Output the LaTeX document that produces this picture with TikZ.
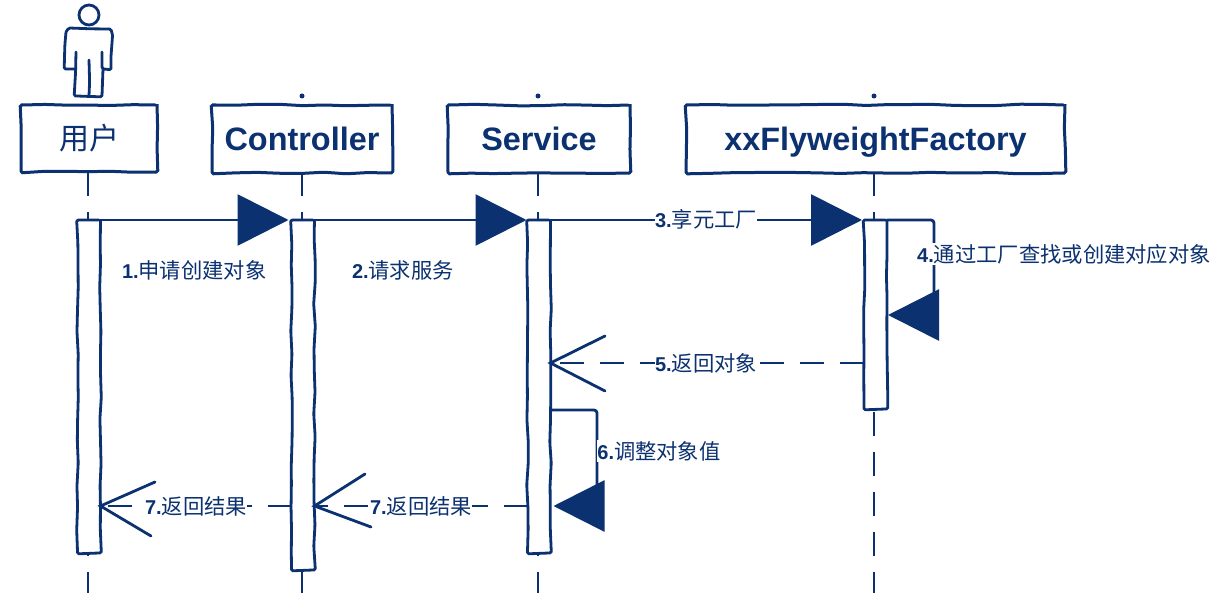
\documentclass[tikz,border=0pt]{standalone}
\usepackage{fontspec}
\setmainfont{Liberation Sans}
\newfontfamily\cjkf{Noto Sans CJK SC}
\usetikzlibrary{arrows.meta,decorations.pathmorphing}
\definecolor{ink}{HTML}{0B3170}
\pgfmathsetseed{7}
\newcommand{\lab}[2]{{\fontsize{20}{24}\selectfont\bfseries #1}{\fontsize{21.3}{25}\selectfont\cjkf #2}}
\tikzset{
  x=1pt,y=-1pt,
  every node/.style={inner sep=0pt,outer sep=0pt,text=ink},
  sketch/.style={decorate,decoration={random steps,segment length=22pt,amplitude=0.8pt},rounded corners=1.5pt},
  headbox/.style={draw=ink,line width=3pt,fill=white,sketch,anchor=north west,align=center,text height=23pt,text depth=0pt},
  headtext/.style={font=\fontsize{32.4}{36}\selectfont\bfseries},
  activ/.style={draw=ink,line width=2.8pt,fill=white,sketch,minimum width=23pt},
  life/.style={draw=ink,line width=2.8pt,dash pattern=on 24pt off 16pt},
  conn/.style={draw=ink,line width=2.8pt},
  solidhead/.style={conn,-{Triangle[length=51pt,width=51pt]}},
  opendash/.style={conn,dash pattern=on 24pt off 16pt},
  barb/.style={conn,line cap=round,line join=miter},
  msg/.style={fill=white,inner xsep=0.5pt,inner ysep=1pt,anchor=center},
  actor/.style={draw=ink,line width=2.8pt,line join=round,line cap=round},
}
\begin{document}
\begin{tikzpicture}
\useasboundingbox (0,0) rectangle (1228,593);
% lifelines anchors
\coordinate (lu0) at (88,172);  \coordinate (lu1) at (88,593);
\coordinate (lc0) at (302,172); \coordinate (lc1) at (302,593);
\coordinate (ls0) at (538,172); \coordinate (ls1) at (538,593);
\coordinate (lf0) at (874,172); \coordinate (lf1) at (874,593);
\draw[life] (lu0) -- (lu1);
\draw[life] (lc0) -- (lc1);
\draw[life] (ls0) -- (ls1);
\draw[life] (lf0) -- (lf1);
% top dots
\coordinate (dc) at (302,96); \coordinate (ds) at (538,96); \coordinate (df) at (874,96);
\fill[ink] (dc) circle (2.5pt) (ds) circle (2.5pt) (df) circle (2.5pt);
% actor
\draw[actor] (89,15) circle (10pt);
\draw[actor,sketch] (66,32) -- (68,29) -- (110,29) -- (112,33) -- (111,69) -- (103,69) -- (102,52)
   (103,69) -- (102,96) -- (75,96) -- (76,52) (75,69) -- (65,69) -- (66,32);
\draw[actor,sketch] (89,60) -- (89,96);
% headers
\node[headbox,headtext,minimum width=136pt,minimum height=67pt] (hu) at (21,105) {\mdseries\fontsize{30}{34}\selectfont\cjkf 用户};
\node[headbox,headtext,minimum width=180pt,minimum height=68pt] (hc) at (212,105) {Controller};
\node[headbox,headtext,minimum width=182pt,minimum height=68pt] (hs) at (448,105) {Service};
\node[headbox,headtext,minimum width=379pt,minimum height=68pt] (hf) at (686,105) {xxFlyweightFactory};
% activations
\node[activ,minimum height=333pt] (au) at (89,386.5) {};
\node[activ,minimum height=350pt] (ac) at (303,395) {};
\node[activ,minimum height=333pt] (as) at (539,386.5) {};
\node[activ,minimum height=189pt] (af) at (875.5,314.5) {};
% row positions
\coordinate (r5) at (0,363); \coordinate (r6) at (0,410); \coordinate (r7) at (0,506);
% solid messages
\draw[solidhead,shorten >=3pt] (au.north east) -- (ac.north west);
\draw[solidhead,shorten >=1pt] (ac.north east) -- (as.north west);
\draw[solidhead,shorten >=2pt] (as.north east) -- (af.north west);
% self message 4
\coordinate (c4a) at (934,220); \coordinate (c4b) at (934,315);
\draw[solidhead,shorten >=1pt,rounded corners=3pt] (af.north east) -- (c4a) -- (c4b) -- (af.east |- c4b);
% dashed return 5
\coordinate (b5a) at (605,336); \coordinate (b5b) at (605,391);
\draw[opendash] (af.west |- r5) -- (as.east |- r5);
\draw[barb] (b5a) -- (as.east |- r5) -- (b5b);
% self message 6
\coordinate (c6a) at (597,410); \coordinate (c6b) at (597,506);
\draw[solidhead,shorten >=3pt,rounded corners=3pt] (as.east |- r6) -- (c6a) -- (c6b) -- (as.east |- c6b);
% return 7 (service to controller)
\coordinate (b7a) at (365,474); \coordinate (b7b) at (371,527);
\draw[opendash] (as.west |- r7) -- (ac.east |- r7);
\draw[barb] (b7a) -- (ac.east |- r7) -- (b7b);
% return 7 (controller to user)
\coordinate (b8a) at (155,482); \coordinate (b8b) at (151,536);
\draw[opendash] (ac.west |- r7) -- (au.east |- r7);
\draw[barb] (b8a) -- (au.east |- r7) -- (b8b);
% labels
\node[anchor=west] (m1) at (122,270) {\lab{1.}{申请创建对象}};
\node[anchor=west] (m2) at (352,270) {\lab{2.}{请求服务}};
\node[msg] (m3) at (706,219) {\lab{3.}{享元工厂}};
\node[msg] (m4) at (1064,254) {\lab{4.}{通过工厂查找或创建对应对象}};
\node[msg] (m5) at (706,363) {\lab{5.}{返回对象}};
\node[msg] (m6) at (659,451) {\lab{6.}{调整对象值}};
\node[msg] (m7) at (421,506) {\lab{7.}{返回结果}};
\node[msg] (m8) at (196,506) {\lab{7.}{返回结果}};
\end{tikzpicture}
\end{document}
